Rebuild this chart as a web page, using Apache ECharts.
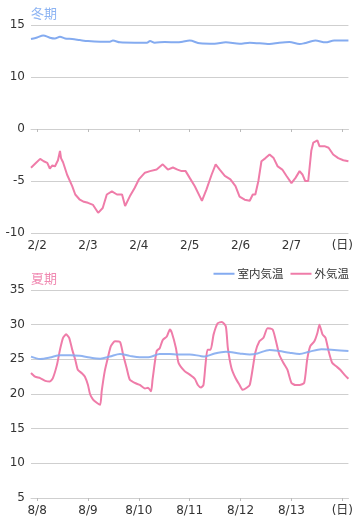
<!DOCTYPE html>
<html>
<head>
<meta charset="utf-8">
<script src="https://cdn.jsdelivr.net/npm/echarts@6/dist/echarts.min.js"></script>
<style>
html,body{margin:0;padding:0;background:#fff;}
#chart{width:356px;height:520px;}
</style>
</head>
<body>
<div id="chart"></div>
<script>
// ---- Data (x = days since first labelled date, 0 = 2/2 or 8/8) ----
const winterTickLabels = ['2/2','2/3','2/4','2/5','2/6','2/7','(日)'];
const summerTickLabels = ['8/8','8/9','8/10','8/11','8/12','8/13','(日)'];
const winterYTicks = [-10, -5, 0, 10, 15];   // broken axis: 10 sits where 5 would be
const summerYTicks = [5, 10, 15, 20, 25, 30, 35];

const winterIndoorDays = [-0.12,0,0.12,0.25,0.35,0.45,0.55,0.69,0.84,1.0,1.24,1.43,1.49,1.63,1.92,2.16,2.22,2.31,2.51,2.76,2.86,3.0,3.2,3.49,3.71,3.98,4.18,4.57,4.76,4.96,5.16,5.25,5.47,5.67,5.84,6.12];
const winterIndoorTemp = [13.65,13.8,14.0,13.78,13.7,13.87,13.7,13.65,13.55,13.45,13.4,13.4,13.5,13.33,13.3,13.3,13.45,13.3,13.37,13.33,13.4,13.5,13.24,13.2,13.33,13.2,13.3,13.17,13.3,13.37,13.17,13.24,13.5,13.33,13.5,13.5];

const winterOutdoorDays = [-0.12,-0.03,0.06,0.13,0.2,0.25,0.3,0.35,0.41,0.45,0.47,0.49,0.51,0.59,0.69,0.75,0.84,0.92,1.0,1.1,1.2,1.29,1.37,1.47,1.57,1.67,1.73,1.82,1.92,2.0,2.12,2.22,2.35,2.47,2.57,2.67,2.76,2.84,2.92,3.0,3.1,3.2,3.24,3.33,3.43,3.51,3.59,3.69,3.8,3.9,3.98,4.08,4.18,4.24,4.29,4.35,4.41,4.49,4.57,4.65,4.73,4.82,4.9,5.0,5.08,5.16,5.22,5.27,5.33,5.39,5.43,5.51,5.55,5.65,5.73,5.82,5.92,6.02,6.12];
const winterOutdoorTemp = [-3.73,-3.3,-2.87,-3.1,-3.25,-3.8,-3.5,-3.6,-3.0,-2.1,-2.8,-3.0,-3.2,-4.4,-5.5,-6.3,-6.8,-7.0,-7.1,-7.3,-8.06,-7.6,-6.3,-6.0,-6.3,-6.3,-7.4,-6.5,-5.65,-4.85,-4.2,-4.05,-3.9,-3.4,-3.9,-3.7,-3.9,-4.05,-4.05,-4.7,-5.5,-6.5,-6.9,-5.8,-4.4,-3.4,-3.9,-4.5,-4.85,-5.5,-6.5,-6.8,-6.9,-6.3,-6.3,-5.0,-3.1,-2.8,-2.45,-2.8,-3.6,-3.9,-4.5,-5.2,-4.7,-4.05,-4.4,-5.0,-5.0,-2.1,-1.3,-1.1,-1.65,-1.65,-1.8,-2.45,-2.8,-3.0,-3.1];

const summerIndoorDays = [-0.12,0.06,0.25,0.45,0.65,0.84,1.04,1.24,1.43,1.63,1.82,2.02,2.22,2.41,2.61,2.76,3.0,3.2,3.29,3.49,3.71,3.98,4.18,4.33,4.57,4.76,4.96,5.16,5.35,5.59,5.84,6.12];
const summerIndoorTemp = [25.4,25.05,25.25,25.6,25.6,25.5,25.25,25.1,25.4,25.77,25.5,25.3,25.35,25.77,25.77,25.7,25.7,25.5,25.4,25.85,26.1,25.85,25.7,25.85,26.35,26.2,25.95,25.77,26.1,26.45,26.35,26.2];

const summerOutdoorDays = [-0.12,-0.04,0.06,0.16,0.25,0.31,0.39,0.45,0.51,0.57,0.63,0.69,0.75,0.8,0.88,0.94,1.0,1.04,1.1,1.18,1.24,1.27,1.33,1.39,1.45,1.53,1.63,1.69,1.76,1.82,1.92,2.02,2.12,2.18,2.24,2.27,2.35,2.41,2.47,2.55,2.61,2.65,2.73,2.78,2.9,3.0,3.1,3.16,3.22,3.27,3.31,3.35,3.41,3.47,3.55,3.63,3.71,3.75,3.82,3.9,3.98,4.04,4.12,4.18,4.24,4.29,4.37,4.45,4.53,4.63,4.69,4.76,4.84,4.92,5.0,5.08,5.16,5.25,5.31,5.37,5.45,5.51,5.55,5.61,5.67,5.73,5.8,5.88,5.96,6.04,6.12];
const summerOutdoorTemp = [23.03,22.5,22.3,21.9,21.8,22.3,24.2,26.4,28.1,28.6,28.1,26.4,24.95,23.5,23.0,22.5,21.3,20.0,19.2,18.7,18.45,20.4,23.3,25.2,26.9,27.6,27.5,25.7,23.75,22.1,21.6,21.3,20.8,20.9,20.4,22.1,26.2,26.6,27.8,28.3,29.3,28.8,26.6,24.5,23.3,22.8,22.2,21.3,20.95,21.3,24.2,26.4,26.4,28.6,30.2,30.4,29.75,26.6,23.75,22.3,21.3,20.6,20.9,21.3,23.75,26.0,27.6,28.1,29.5,29.3,27.8,25.7,24.5,23.5,21.6,21.3,21.3,21.6,25.0,26.9,27.6,28.8,30.0,28.6,28.1,26.2,24.5,24.0,23.5,22.8,22.2];

const seriesNames = ['室内気温', '外気温'];
const titles = ['冬期', '夏期'];

// ---- Helpers ----
const BLUE = '#84abf0';
const PINK = '#ef7ca9';
const GRID_COLOR = '#cfcfcf';
const TEXT = '#333';
const NUM_FONT = 'DejaVu Sans, Noto Sans CJK JP, sans-serif';
const CJK_FONT = 'Noto Sans CJK JP, sans-serif';

function zip(xs, ys, f) { return xs.map((x, i) => [x, f ? f(ys[i]) : ys[i]]); }
// winter axis break: values above 5 are shifted down by 5 so 10 lands on the 5 slot
function winterMap(v) { return v > 5 ? v - 5 : v; }
function winterLabel(v) { return v > 0 ? String(v + 5) : String(v); }

function xAxis(gridIndex, labels) {
  return {
    type: 'value', gridIndex, min: -0.12, max: 6.12,
    axisLine: { show: true, lineStyle: { color: GRID_COLOR, width: 1 } },
    axisTick: { show: true, length: 3, lineStyle: { color: '#bbb' }, customValues: [0,1,2,3,4,5,6] },
    axisLabel: { color: TEXT, fontSize: 12, fontFamily: NUM_FONT, margin: 7,
      customValues: [0,1,2,3,4,5,6], formatter: v => labels[Math.round(v)] },
    splitLine: { show: false }
  };
}

const chart = echarts.init(document.getElementById('chart'), null, { renderer: 'canvas' });
chart.setOption({
  animation: false,
  backgroundColor: '#fff',
  title: [
    { text: titles[0], left: 31, top: 7, padding: 0, textStyle: { color: '#8db4f3', fontSize: 13, fontWeight: 'normal', fontFamily: CJK_FONT } },
    { text: titles[1], left: 31, top: 272, padding: 0, textStyle: { color: '#f08ab2', fontSize: 13, fontWeight: 'normal', fontFamily: CJK_FONT } }
  ],
  legend: {
    right: 7, top: 268, padding: 0, icon: 'rect', itemWidth: 21, itemHeight: 2, itemGap: 7,
    data: seriesNames,
    textStyle: { color: TEXT, fontSize: 11.5, fontFamily: CJK_FONT, padding: [0,0,0,-2] }
  },
  grid: [
    { left: 31, right: 7, top: 25, height: 208 },
    { left: 31, right: 7, top: 290, height: 208 }
  ],
  xAxis: [ xAxis(0, winterTickLabels), xAxis(1, summerTickLabels) ],
  yAxis: [
    { type: 'value', gridIndex: 0, min: -10, max: 10, interval: 5,
      axisLine: { show: false }, axisTick: { show: false },
      axisLabel: { color: TEXT, fontSize: 12, fontFamily: NUM_FONT, margin: 6,
        formatter: v => { const s = winterLabel(v); return winterYTicks.indexOf(Number(s)) >= 0 ? s : ''; } },
      splitLine: { lineStyle: { color: GRID_COLOR, width: 1 } } },
    { type: 'value', gridIndex: 1, min: summerYTicks[0], max: summerYTicks[summerYTicks.length-1], interval: 5,
      axisLine: { show: false }, axisTick: { show: false },
      axisLabel: { color: TEXT, fontSize: 12, fontFamily: NUM_FONT, margin: 6 },
      splitLine: { lineStyle: { color: GRID_COLOR, width: 1 } } }
  ],
  series: [
    { name: seriesNames[1], type: 'line', xAxisIndex: 0, yAxisIndex: 0, symbol: 'none', smooth: false,
      data: zip(winterOutdoorDays, winterOutdoorTemp), lineStyle: { color: PINK, width: 2 }, itemStyle: { color: PINK } },
    { name: seriesNames[0], type: 'line', xAxisIndex: 0, yAxisIndex: 0, symbol: 'none', smooth: 0.3,
      data: zip(winterIndoorDays, winterIndoorTemp, winterMap), lineStyle: { color: BLUE, width: 2 }, itemStyle: { color: BLUE } },
    { name: seriesNames[1], type: 'line', xAxisIndex: 1, yAxisIndex: 1, symbol: 'none', smooth: 0.2,
      data: zip(summerOutdoorDays, summerOutdoorTemp), lineStyle: { color: PINK, width: 2 }, itemStyle: { color: PINK } },
    { name: seriesNames[0], type: 'line', xAxisIndex: 1, yAxisIndex: 1, symbol: 'none', smooth: 0.3,
      data: zip(summerIndoorDays, summerIndoorTemp), lineStyle: { color: BLUE, width: 2, opacity: 0.9 }, itemStyle: { color: BLUE } }
  ]
});
</script>
</body>
</html>
